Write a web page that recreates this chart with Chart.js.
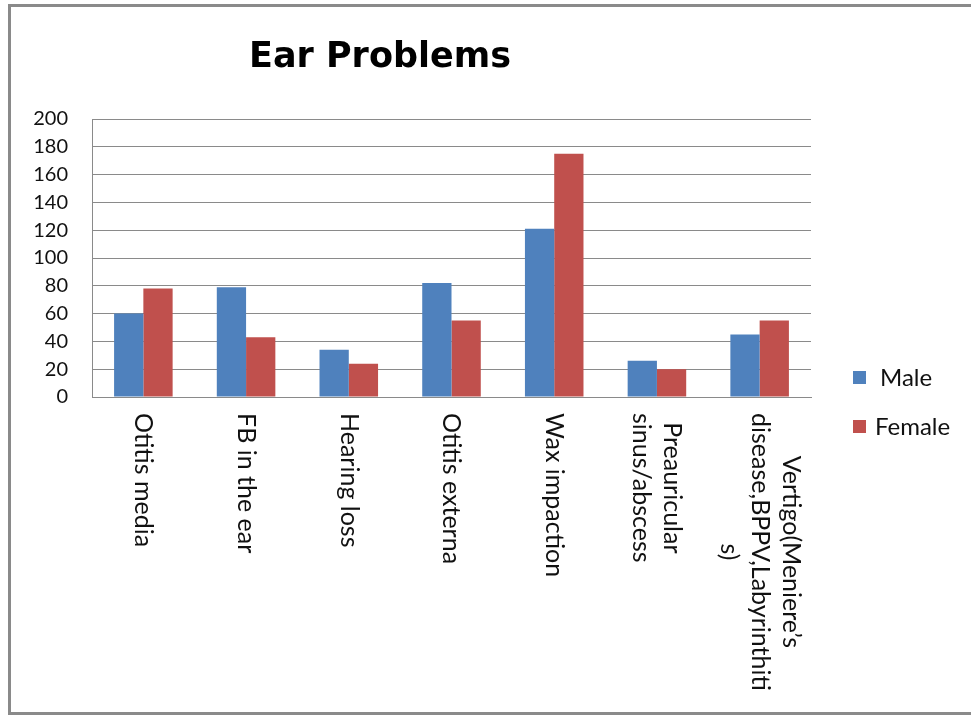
<!DOCTYPE html>
<html>
<head>
<meta charset="utf-8">
<title>Ear Problems</title>
<script src="https://cdn.jsdelivr.net/npm/chart.js@4.4.0/dist/chart.umd.min.js"></script>
<style>
  html, body { margin: 0; padding: 0; background: #fff; overflow: hidden; }
  #wrap { position: relative; width: 971px; height: 715px; }
  #frame {
    position: absolute; left: 8px; top: 4px; width: 990px; height: 711px;
    border: 3px solid #8a8a8a; border-right: none; box-sizing: border-box;
  }
  canvas { position: absolute; left: 0; top: 0; }
</style>
</head>
<body>
<div id="wrap">
  <div id="frame"></div>
  <canvas id="earChart" width="971" height="715"></canvas>
</div>
<script>
// Chart data
const chartTitle = 'Ear Problems';
const categories = [
  ['Otitis media'],
  ['FB in the ear'],
  ['Hearing loss'],
  ['Otitis externa'],
  ['Wax impaction'],
  ['Preauricular', 'sinus/abscess'],
  ['Vertigo(Meniere’s', 'disease,BPPV,Labyrinthiti', 's)']
];
const seriesNames = ['Male', 'Female'];
const maleValues = [60, 79, 34, 82, 121, 26, 45];
const femaleValues = [78, 43, 24, 55, 175, 20, 55];
const yTicks = [0, 20, 40, 60, 80, 100, 120, 140, 160, 180, 200];

const gridGrey = '#8a8a8a';

// Title, rotated category labels and legend are drawn by hand
const extraText = {
  id: 'extraText',
  afterDraw(chart) {
    const ctx = chart.ctx;
    const xScale = chart.scales.x;
    ctx.save();

    // Title
    ctx.font = 'bold 35px "DejaVu Sans"';
    ctx.fillStyle = '#000';
    ctx.textAlign = 'left';
    ctx.textBaseline = 'alphabetic';
    ctx.fillText(chartTitle, 249, 67);

    // Category labels, turned a quarter clockwise
    ctx.font = '25px Lato';
    ctx.fillStyle = '#111';
    ctx.textAlign = 'center';
    ctx.textBaseline = 'middle';
    const lineH = 31;
    categories.forEach((lines, i) => {
      const cx = xScale.getPixelForValue(i);
      const longest = Math.max(...lines.map(l => ctx.measureText(l).width));
      ctx.save();
      ctx.translate(cx, xScale.bottom + 16);
      ctx.rotate(Math.PI / 2);
      lines.forEach((line, k) => {
        ctx.fillText(line, longest / 2, (k - (lines.length - 1) / 2) * lineH);
      });
      ctx.restore();
    });

    // Legend
    ctx.font = '24px Lato';
    ctx.textAlign = 'left';
    ctx.textBaseline = 'alphabetic';
    chart.data.datasets.forEach((ds, i) => {
      const y = 371 + i * 49;
      ctx.fillStyle = ds.backgroundColor;
      ctx.fillRect(853, y, 13, 13);
      ctx.fillStyle = '#111';
      ctx.fillText(ds.label, i === 0 ? 880 : 875, y + 15);
    });

    ctx.restore();
  }
};

const ctx = document.getElementById('earChart').getContext('2d');
new Chart(ctx, {
  type: 'bar',
  data: {
    labels: categories,
    datasets: [
      {
        label: seriesNames[0],
        data: maleValues,
        backgroundColor: '#4f81bd',
        categoryPercentage: 0.57,
        barPercentage: 1.0
      },
      {
        label: seriesNames[1],
        data: femaleValues,
        backgroundColor: '#c0504d',
        categoryPercentage: 0.57,
        barPercentage: 1.0
      }
    ]
  },
  options: {
    responsive: false,
    animation: false,
    layout: {
      padding: { top: 119, right: 160, bottom: 318, left: 0 }
    },
    font: { family: 'Lato' },
    plugins: {
      legend: { display: false },
      title: { display: false },
      tooltip: { enabled: false }
    },
    scales: {
      x: {
        grid: { display: false, drawTicks: false },
        border: { color: gridGrey, width: 1 },
        ticks: { display: false }
      },
      y: {
        min: 0,
        max: 200,
        afterBuildTicks: scale => {
          scale.ticks = yTicks.map(v => ({ value: v }));
        },
        afterFit: scale => {
          scale.width = 92;
        },
        grid: { color: gridGrey, drawTicks: false },
        border: { color: gridGrey, width: 1 },
        ticks: {
          padding: 24,
          color: '#111',
          font: { family: 'Lato', size: 20 }
        }
      }
    }
  },
  plugins: [extraText]
});
</script>
</body>
</html>
